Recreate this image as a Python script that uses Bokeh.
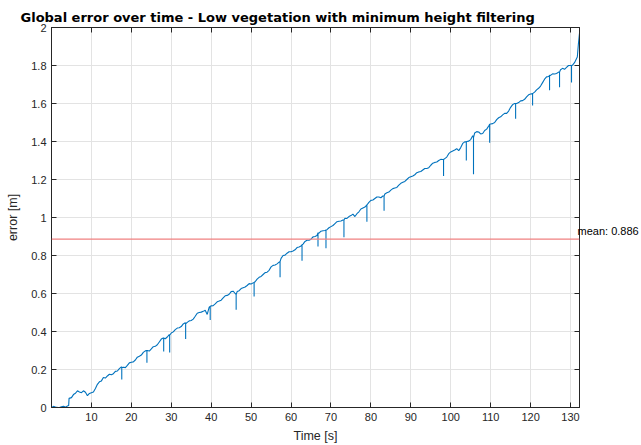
from bokeh.plotting import figure
from bokeh.models import (LinearAxis, FixedTicker, CustomJSTickFormatter, Range1d,
                          Span, ColumnDataSource)
from bokeh.embed import file_html
from bokeh.resources import INLINE

# ---- data ----
base_time = [0, 1, 2, 3, 4, 4.3, 4.4] + list(range(5, 132)) + [131.7, 132.0, 132.25]
base_error = [
    0.000, 0.003, 0.000, 0.006, 0.008, 0.010, 0.048,
    0.052, 0.075, 0.082, 0.088, 0.062, 0.078, 0.100, 0.135, 0.158, 0.166,
    0.172, 0.190, 0.205, 0.212, 0.222, 0.238, 0.250, 0.270, 0.290, 0.300,
    0.308, 0.322, 0.345, 0.366, 0.371, 0.392, 0.410, 0.420, 0.440, 0.448,
    0.458, 0.480, 0.500, 0.506, 0.490, 0.535, 0.545, 0.560, 0.577, 0.590,
    0.610, 0.600, 0.615, 0.630, 0.642, 0.650, 0.662, 0.685, 0.700, 0.712,
    0.740, 0.750, 0.765, 0.800, 0.812, 0.820, 0.830, 0.845, 0.860, 0.880,
    0.886, 0.900, 0.918, 0.930, 0.936, 0.952, 0.968, 0.980, 0.987, 0.995,
    1.010, 1.005, 1.030, 1.050, 1.066, 1.090, 1.100, 1.108, 1.113, 1.130,
    1.144, 1.155, 1.170, 1.185, 1.200, 1.214, 1.225, 1.240, 1.250, 1.258,
    1.275, 1.290, 1.300, 1.305, 1.318, 1.345, 1.355, 1.352, 1.390, 1.400,
    1.410, 1.445, 1.450, 1.442, 1.465, 1.492, 1.500, 1.525, 1.540, 1.548,
    1.580, 1.600, 1.605, 1.615, 1.635, 1.650, 1.660, 1.680, 1.710, 1.740,
    1.748, 1.755, 1.765, 1.785, 1.790, 1.800, 1.815,
    1.845, 1.920, 1.970,
]
# half-second samples (local wiggle of the trace)
mid_time = [0.5, 1.5, 2.5, 3.5] + [i + 0.5 for i in range(5, 131)]
mid_error = [
    0.006, 0.001, 0.004, 0.002,
    0.068, 0.088, 0.078, 0.080, 0.074, 0.082, 0.122, 0.140, 0.155, 0.175,   # 5.5-14.5
    0.178, 0.192, 0.214, 0.210, 0.235, 0.240, 0.265, 0.276, 0.298, 0.297,   # 15.5-24.5
    0.320, 0.330, 0.360, 0.362, 0.384, 0.398, 0.418, 0.426, 0.446, 0.456,   # 25.5-34.5
    0.465, 0.496, 0.502, 0.512, 0.528, 0.536, 0.556, 0.565, 0.588, 0.596,   # 35.5-44.5
    0.612, 0.610, 0.626, 0.634, 0.652, 0.656, 0.676, 0.690, 0.710, 0.722,   # 45.5-54.5
    0.748, 0.756, 0.785, 0.802, 0.820, 0.824, 0.842, 0.850, 0.874, 0.880,   # 55.5-64.5
    0.898, 0.905, 0.928, 0.932, 0.946, 0.958, 0.978, 0.982, 0.996, 1.005,   # 65.5-74.5
    1.018, 1.020, 1.045, 1.055, 1.080, 1.092, 1.108, 1.104, 1.124, 1.134,   # 75.5-84.5
    1.152, 1.158, 1.180, 1.190, 1.210, 1.218, 1.236, 1.242, 1.258, 1.262,   # 85.5-94.5
    1.286, 1.292, 1.306, 1.310, 1.336, 1.350, 1.362, 1.368, 1.398, 1.402,   # 95.5-104.5
    1.430, 1.452, 1.440, 1.458, 1.482, 1.494, 1.515, 1.530, 1.548, 1.560,   # 105.5-114.5
    1.594, 1.600, 1.614, 1.622, 1.646, 1.652, 1.672, 1.692, 1.728, 1.742,   # 115.5-124.5
    1.756, 1.758, 1.778, 1.780, 1.800, 1.802,                               # 125.5-130.5
]
spike_time = [17.6, 23.9, 28.1, 29.6, 33.6, 39.75, 46.25, 50.75, 57.25, 62.75,
              66.75, 68.75, 73.25, 79.0, 83.3, 98.2, 103.9, 105.7, 109.75,
              116.25, 120.5, 124.75, 127.25, 130.25]
spike_level = [0.210, 0.300, 0.366, 0.380, 0.441, 0.532, 0.595, 0.658, 0.768, 0.856,
               0.918, 0.934, 0.987, 1.066, 1.113, 1.305, 1.398, 1.421, 1.491,
               1.600, 1.652, 1.748, 1.765, 1.800]
spike_bottom = [0.147, 0.235, 0.295, 0.290, 0.360, 0.460, 0.514, 0.584, 0.686, 0.773,
                0.847, 0.838, 0.896, 0.978, 1.036, 1.218, 1.300, 1.228, 1.393,
                1.520, 1.590, 1.670, 1.685, 1.710]
mean_error = 0.886
x_ticks = [10, 20, 30, 40, 50, 60, 70, 80, 90, 100, 110, 120, 130]
y_ticks = [0, 0.2, 0.4, 0.6, 0.8, 1.0, 1.2, 1.4, 1.6, 1.8, 2.0]
x_end = 132.25

# merge all samples
pts = list(zip(base_time, base_error))
pts += list(zip(mid_time, mid_error[:len(mid_time)]))
for ts, lv, bt in zip(spike_time, spike_level, spike_bottom):
    pts += [(ts, lv), (ts, bt), (ts, lv)]
pts.sort(key=lambda q: q[0])
src = ColumnDataSource(dict(t=[q[0] for q in pts], e=[q[1] for q in pts]))

FONT = "Liberation Sans"
TXT = "#262626"

p = figure(width=641, height=445, output_backend="svg", toolbar_location=None,
           x_range=Range1d(0, x_end), y_range=Range1d(0, 2),
           x_axis_location=None, y_axis_location=None,
           min_border_left=51, min_border_right=62, min_border_top=27,
           min_border_bottom=37)
p.background_fill_color = "white"
p.border_fill_color = "white"
p.outline_line_color = TXT
p.outline_line_width = 1

p.title.text = "Global error over time - Low vegetation with minimum height filtering"
p.title.text_font = "DejaVu Sans"
p.title.text_font_size = "13px"
p.title.text_font_style = "bold"
p.title.align = "left"
p.title.offset = -31
p.title.text_color = "black"
p.title.standoff = 6

fmt = CustomJSTickFormatter(code="return String(Math.round(tick*10)/10);")

def style_axis(ax, ticks, show_labels):
    ax.ticker = FixedTicker(ticks=ticks)
    ax.formatter = fmt
    ax.major_tick_in = 5
    ax.major_tick_out = 0
    ax.minor_tick_line_color = None
    ax.axis_line_color = TXT
    ax.major_tick_line_color = TXT
    ax.major_label_text_font = FONT
    if show_labels:
        ax.major_label_text_font_size = "11px"
        ax.major_label_text_color = TXT
    else:
        ax.major_label_text_font_size = "1px"
        ax.major_label_text_color = None
        ax.major_label_standoff = 0

xb = LinearAxis(axis_label="Time [s]")
style_axis(xb, x_ticks, True)
xb.major_label_standoff = 5
xb.axis_label_standoff = 5
xb.axis_label_text_font = FONT
xb.axis_label_text_font_size = "12.5px"
xb.axis_label_text_font_style = "normal"
xb.axis_label_text_color = TXT
p.add_layout(xb, "below")

yl = LinearAxis(axis_label="error [m]")
style_axis(yl, y_ticks, True)
yl.major_label_standoff = 5
yl.axis_label_standoff = 8
yl.axis_label_text_font = FONT
yl.axis_label_text_font_size = "12.5px"
yl.axis_label_text_font_style = "normal"
yl.axis_label_text_color = TXT
p.add_layout(yl, "left")

xt = LinearAxis()
style_axis(xt, x_ticks + [0], False)
p.add_layout(xt, "above")
yr = LinearAxis()
style_axis(yr, y_ticks, False)
p.add_layout(yr, "right")

# right-side annotation of the mean, drawn as a tick label (outside the frame)
mean_pos = mean_error + 0.042  # text sits just above the line
ym = LinearAxis(ticker=FixedTicker(ticks=[mean_pos]),
                major_label_overrides={mean_pos: "mean: %.3f" % mean_error})
ym.major_tick_in = 0
ym.major_tick_out = 0
ym.minor_tick_line_color = None
ym.axis_line_color = None
ym.major_label_standoff = -2
ym.major_label_text_font = FONT
ym.major_label_text_font_size = "11px"
ym.major_label_text_color = "black"
p.add_layout(ym, "right")

p.xgrid.ticker = FixedTicker(ticks=x_ticks)
p.ygrid.ticker = FixedTicker(ticks=y_ticks)
for g in (p.xgrid, p.ygrid):
    g.grid_line_color = "#e3e3e3"
    g.grid_line_width = 1

p.line("t", "e", source=src, line_color="#0072BD", line_width=1.1)

p.add_layout(Span(location=mean_error, dimension="width", line_color="#f08080",
                  line_width=1.2))

open("out.html", "w").write(file_html(p, INLINE))
